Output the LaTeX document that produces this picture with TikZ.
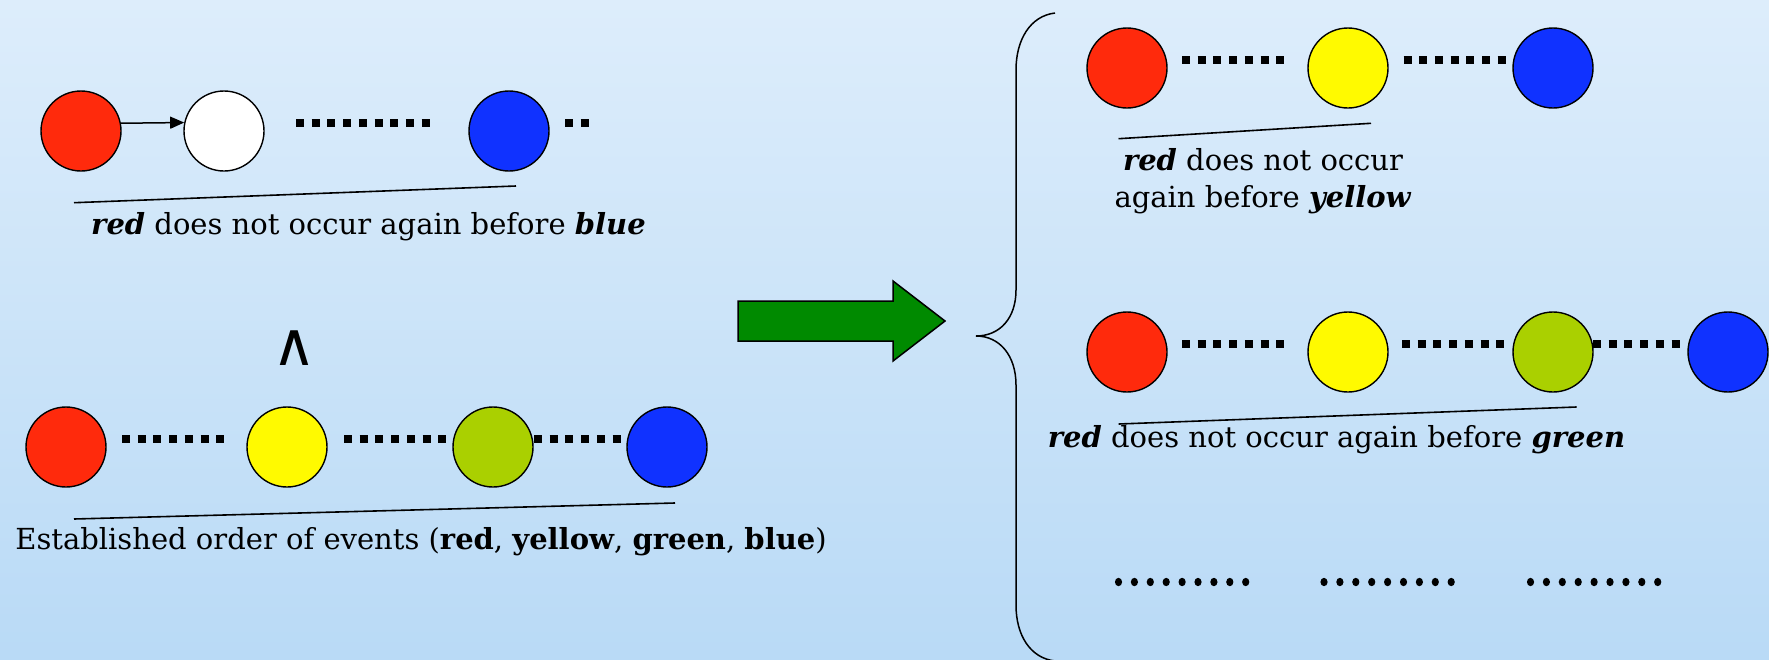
\documentclass[tikz,border=0pt]{standalone}
\usepackage{fontspec}
\setmainfont{DejaVu Serif}
\newfontfamily\symfont{DejaVu Sans}
\usetikzlibrary{arrows.meta}

\definecolor{bgtop}{RGB}{221,237,251}
\definecolor{bgbot}{RGB}{185,218,246}
\definecolor{evred}{RGB}{255,42,12}
\definecolor{evyellow}{RGB}{255,250,0}
\definecolor{evgreen}{RGB}{170,208,0}
\definecolor{evblue}{RGB}{16,50,255}
\definecolor{arrowgreen}{RGB}{0,138,0}

\tikzset{
  event/.style={circle, draw=black, line width=1.4pt, minimum size=80pt, inner sep=0pt},
  sqdots/.style={line width=7.4pt, dash pattern=on 8pt off 7.7pt, line cap=butt},
  underline/.style={line width=1.6pt},
  lbl/.style={inner sep=0pt, anchor=base, font=\fontsize{29}{37}\selectfont},
}

\begin{document}
\begin{tikzpicture}[x=1pt, y=-1pt]
  % background
  \shade[top color=bgtop, bottom color=bgbot] (0,0) rectangle (1769,659);
  \useasboundingbox (0,0) rectangle (1769,659);

  % ---- upper left: red followed by an unknown event, later blue
  \node[event, fill=evred]   (ta) at (81,131)  {};
  \node[event, fill=white]   (tb) at (224,131) {};
  \node[event, fill=evblue]  (tc) at (509,131) {};
  \draw[line width=1.5pt, -{Triangle[length=14pt,width=12pt]}] (ta.11.5) -- (tb.168.5);
  \draw[sqdots] (296,123) -- (429.6,123);
  \draw[sqdots] (565,123) -- (588.7,123);
  \draw[underline] (74,202.7) -- (516,186);
  \node[lbl] (tl) at (368.5,234) {\textbf{\textit{red}} does not occur again before \textbf{\textit{blue}}};

  % conjunction sign
  \node[inner sep=0pt, font=\symfont\fontsize{60}{60}\selectfont] (and) at (294,348) {∧};

  % ---- lower left: established order
  \node[event, fill=evred]    (ba) at (66,447)  {};
  \node[event, fill=evyellow] (bb) at (287,447) {};
  \node[event, fill=evgreen]  (bc) at (493,447) {};
  \node[event, fill=evblue]   (bd) at (667,447) {};
  \draw[sqdots] (122,439) -- (224.2,439);
  \draw[sqdots] (344,439) -- (446.2,439);
  \draw[sqdots] (534,439) -- (620.5,439);
  \draw[underline] (74,519) -- (675,503);
  \node[lbl] (bl) at (421,549) {Established order of events (\textbf{red}, \textbf{yellow}, \textbf{green}, \textbf{blue})};

  % ---- implication arrow
  \draw[fill=arrowgreen, line width=1.5pt, line join=miter]
    (738,301) -- (893,301) -- (893,281) -- (945,321) -- (893,361) -- (893,341) -- (738,341) -- cycle;

  % ---- brace
  \draw[line width=1.5pt]
    (1055,13) .. controls (1030,16) and (1016,40) .. (1016,70) -- (1016,290)
    .. controls (1016,318) and (1000,336) .. (976,336)
    .. controls (1000,336) and (1016,356) .. (1016,385) -- (1016,605)
    .. controls (1016,635) and (1030,658) .. (1055,661);

  % ---- upper right case
  \node[event, fill=evred]    (ra) at (1127,68)  {};
  \node[event, fill=evyellow] (rb) at (1348,68)  {};
  \node[event, fill=evblue]   (rc) at (1553,68)  {};
  \draw[sqdots] (1182,60) -- (1284.2,60);
  \draw[sqdots] (1403.5,60) -- (1505.7,60);
  \draw[underline] (1118.5,138.7) -- (1371,123.3);
  \node[lbl, align=center] (rl) at (1263,207) {\textbf{\textit{red}} does not occur\\again before \textbf{\textit{yellow}}};

  % ---- middle right case
  \node[event, fill=evred]    (ma) at (1127,352) {};
  \node[event, fill=evyellow] (mb) at (1348,352) {};
  \node[event, fill=evgreen]  (mc) at (1553,352) {};
  \node[event, fill=evblue]   (md) at (1728,352) {};
  \draw[sqdots] (1182,344) -- (1284.2,344);
  \draw[sqdots] (1402,344) -- (1504.2,344);
  \draw[sqdots] (1593,344) -- (1679.5,344);
  \draw[underline] (1118.7,424) -- (1576.6,407);
  \node[lbl] (ml) at (1336.5,447) {\textbf{\textit{red}} does not occur again before \textbf{\textit{green}}};

  % ---- further cases
  \foreach \x in {1118.5,1324,1530.5}
    \foreach \i in {0,...,8}
      \fill (\x+\i*15.9,582) ellipse (3.6pt and 4.2pt);
\end{tikzpicture}
\end{document}
